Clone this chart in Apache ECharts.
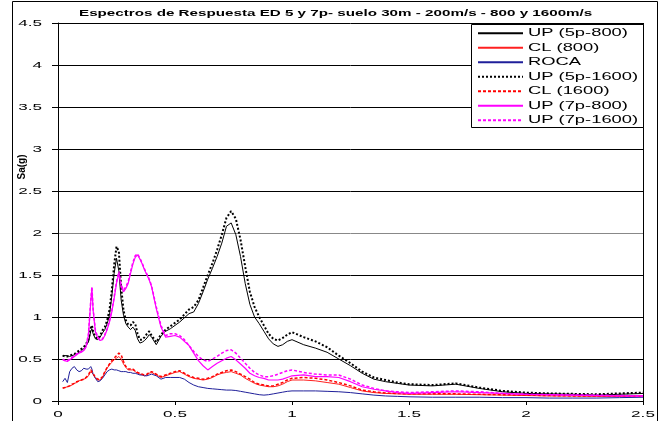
<!DOCTYPE html>
<html>
<head>
<meta charset="utf-8">
<script src="https://cdn.jsdelivr.net/npm/echarts@6/dist/echarts.min.js"></script>
<style>
html,body{margin:0;padding:0;background:#fff;}
#chart{width:662px;height:421px;}
</style>
</head>
<body>
<div id="chart"></div>
<script>
// Data
const periods = [
  0.02,0.03,0.04,0.05,0.06,0.07,0.08,0.09,0.10,0.11,
  0.12,0.13,0.14,0.145,0.15,0.16,0.17,0.18,0.19,0.20,
  0.21,0.22,0.23,0.24,0.25,0.26,0.27,0.28,0.29,0.30,
  0.31,0.32,0.33,0.34,0.35,0.36,0.37,0.38,0.39,0.40,
  0.42,0.44,0.46,0.48,0.50,0.52,0.54,0.56,0.58,0.60,
  0.62,0.64,0.66,0.68,0.70,0.72,0.74,0.76,0.78,0.80,
  0.82,0.84,0.86,0.88,0.90,0.92,0.94,0.96,0.98,1.00,
  1.05,1.10,1.15,1.20,1.25,1.30,1.35,1.40,1.45,1.50,
  1.6,1.7,1.8,1.9,2.0,2.1,2.2,2.3,2.4,2.5
];
const up5p800 = [
  0.54,0.54,0.54,0.53,0.54,0.55,0.56,0.58,0.60,0.62,
  0.66,0.70,0.83,0.86,0.80,0.74,0.73,0.76,0.81,0.85,
  0.92,1.02,1.25,1.52,1.70,1.55,1.20,1.02,0.92,0.88,
  0.85,0.88,0.84,0.74,0.69,0.70,0.72,0.75,0.79,0.76,
  0.67,0.77,0.83,0.86,0.90,0.94,0.99,1.04,1.06,1.16,
  1.30,1.45,1.58,1.72,1.88,2.08,2.12,1.98,1.72,1.40,
  1.15,1.00,0.92,0.83,0.74,0.68,0.65,0.67,0.71,0.73,
  0.67,0.63,0.58,0.50,0.42,0.33,0.26,0.23,0.21,0.19,
  0.18,0.20,0.15,0.11,0.09,0.085,0.08,0.07,0.08,0.09
];
const cl800 = [
  0.16,0.16,0.17,0.18,0.19,0.21,0.22,0.24,0.25,0.26,
  0.27,0.30,0.35,0.36,0.32,0.27,0.25,0.25,0.28,0.34,
  0.39,0.43,0.46,0.49,0.51,0.53,0.50,0.44,0.40,0.37,
  0.37,0.37,0.35,0.33,0.32,0.31,0.30,0.31,0.33,0.34,
  0.31,0.28,0.30,0.32,0.34,0.35,0.32,0.29,0.27,0.26,
  0.25,0.26,0.28,0.31,0.33,0.34,0.35,0.33,0.31,0.27,
  0.24,0.21,0.19,0.18,0.17,0.17,0.18,0.20,0.23,0.25,
  0.25,0.24,0.22,0.20,0.16,0.12,0.10,0.09,0.085,0.08,
  0.08,0.08,0.075,0.07,0.065,0.06,0.06,0.055,0.055,0.06
];
const roca = [
  0.23,0.27,0.22,0.35,0.39,0.41,0.37,0.35,0.36,0.39,
  0.38,0.38,0.41,0.38,0.32,0.27,0.23,0.24,0.27,0.31,
  0.35,0.37,0.38,0.37,0.37,0.36,0.35,0.35,0.35,0.34,
  0.34,0.33,0.33,0.32,0.31,0.31,0.30,0.30,0.31,0.32,
  0.30,0.26,0.28,0.28,0.28,0.28,0.26,0.22,0.19,0.17,
  0.16,0.15,0.145,0.14,0.135,0.13,0.13,0.125,0.115,0.105,
  0.095,0.085,0.075,0.07,0.075,0.085,0.095,0.105,0.115,0.12,
  0.12,0.12,0.115,0.11,0.10,0.085,0.07,0.06,0.055,0.05,
  0.045,0.045,0.045,0.04,0.04,0.035,0.035,0.035,0.04,0.045
];
const up5p1600 = [
  0.54,0.53,0.53,0.54,0.55,0.56,0.58,0.60,0.62,0.64,
  0.68,0.73,0.87,0.90,0.83,0.76,0.74,0.78,0.84,0.88,
  0.96,1.08,1.32,1.62,1.84,1.78,1.35,1.08,0.96,0.91,
  0.90,0.94,0.92,0.80,0.73,0.73,0.76,0.80,0.83,0.78,
  0.70,0.79,0.85,0.89,0.93,0.97,1.03,1.09,1.12,1.20,
  1.35,1.50,1.64,1.80,1.98,2.18,2.26,2.17,1.92,1.60,
  1.30,1.12,1.00,0.90,0.80,0.74,0.72,0.75,0.79,0.82,
  0.76,0.71,0.64,0.54,0.45,0.35,0.28,0.25,0.22,0.20,
  0.19,0.21,0.16,0.12,0.10,0.09,0.085,0.08,0.09,0.10
];
const cl1600 = [
  0.15,0.16,0.17,0.18,0.20,0.21,0.23,0.24,0.25,0.26,
  0.28,0.31,0.37,0.38,0.33,0.28,0.26,0.26,0.29,0.35,
  0.40,0.44,0.48,0.51,0.54,0.57,0.55,0.47,0.41,0.38,
  0.38,0.38,0.36,0.34,0.33,0.32,0.31,0.32,0.34,0.35,
  0.32,0.29,0.31,0.33,0.35,0.36,0.33,0.30,0.28,0.27,
  0.26,0.27,0.29,0.32,0.34,0.36,0.37,0.35,0.32,0.29,
  0.26,0.22,0.20,0.19,0.18,0.18,0.20,0.22,0.25,0.27,
  0.28,0.27,0.25,0.22,0.18,0.13,0.11,0.095,0.09,0.085,
  0.085,0.085,0.08,0.075,0.07,0.065,0.06,0.06,0.06,0.06
];
const up7p800 = [
  0.49,0.48,0.47,0.49,0.51,0.53,0.55,0.57,0.58,0.60,
  0.64,0.78,1.18,1.35,1.08,0.82,0.75,0.72,0.73,0.78,
  0.85,0.94,1.06,1.22,1.40,1.52,1.36,1.30,1.34,1.40,
  1.52,1.63,1.71,1.74,1.69,1.63,1.56,1.50,1.44,1.36,
  1.10,0.88,0.76,0.77,0.78,0.76,0.71,0.66,0.57,0.48,
  0.42,0.37,0.41,0.45,0.48,0.51,0.53,0.49,0.44,0.39,
  0.33,0.30,0.28,0.27,0.25,0.25,0.25,0.26,0.28,0.30,
  0.31,0.29,0.29,0.28,0.23,0.17,0.14,0.12,0.10,0.09,
  0.10,0.11,0.10,0.09,0.08,0.075,0.07,0.065,0.06,0.06
];
const up7p1600 = [
  0.50,0.48,0.48,0.50,0.52,0.54,0.56,0.58,0.59,0.61,
  0.65,0.80,1.20,1.36,1.10,0.84,0.76,0.73,0.74,0.79,
  0.86,0.96,1.08,1.24,1.42,1.54,1.38,1.32,1.36,1.42,
  1.54,1.65,1.73,1.75,1.70,1.64,1.57,1.51,1.45,1.37,
  1.12,0.90,0.78,0.80,0.80,0.78,0.73,0.66,0.59,0.53,
  0.49,0.47,0.50,0.53,0.57,0.60,0.61,0.57,0.51,0.45,
  0.39,0.34,0.31,0.29,0.29,0.30,0.32,0.34,0.36,0.37,
  0.34,0.32,0.31,0.31,0.26,0.19,0.15,0.12,0.11,0.10,
  0.11,0.12,0.11,0.09,0.08,0.075,0.07,0.07,0.065,0.06
];
const seriesNames = ['UP (5p-800)','CL (800)','ROCA','UP (5p-1600)','CL (1600)','UP (7p-800)','UP (7p-1600)'];
const seriesValues = [up5p800, cl800, roca, up5p1600, cl1600, up7p800, up7p1600];
const titleText = 'Espectros de Respuesta ED 5 y 7p- suelo 30m - 200m/s - 800 y 1600m/s';
const xName = 'T (s)';
const yName = 'Sa(g)';

// The reference (an Excel export) shows horizontal text stretched sideways;
// reproduce that by widening horizontal text about its anchor point.
(function(){
  const P = CanvasRenderingContext2D.prototype;
  const orig = P.fillText;
  const SX = 1.8;
  P.fillText = function(t, x, y, w){
    const m = this.getTransform();
    if (Math.abs(m.b) > 1e-6 || Math.abs(m.c) > 1e-6) {
      return w === undefined ? orig.call(this, t, x, y) : orig.call(this, t, x, y, w);
    }
    const px = m.a * x + m.c * y + m.e;
    this.save();
    this.setTransform(SX * m.a, m.b, SX * m.c, m.d, SX * m.e + (1 - SX) * px, m.f);
    if (w === undefined) orig.call(this, t, x, y); else orig.call(this, t, x, y, w);
    this.restore();
  };
})();

const FONT = 'Liberation Sans';
const styles = [
  {color:'#000000', width:1, type:'solid'},
  {color:'#ff2020', width:1, type:'solid'},
  {color:'#1f1f9a', width:1, type:'solid'},
  {color:'#000000', width:2, type:[2,2]},
  {color:'#ff0000', width:1.5, type:[3,2]},
  {color:'#ff00ff', width:1.2, type:'solid'},
  {color:'#ff00ff', width:1.5, type:[3,2]}
];

const chart = echarts.init(document.getElementById('chart'), null, {renderer:'canvas'});
chart.setOption({
  animation: false,
  backgroundColor: '#ffffff',
  title: {
    text: titleText, left: 79, top: 10, padding: 0,
    textStyle: {fontFamily: FONT, fontSize: 8.45, fontWeight: 'bold', color: '#000'}
  },
  grid: {left: 58, right: 19, top: 23, bottom: 20, containLabel: false, outerBoundsMode: 'none'},
  legend: {
    orient: 'vertical', left: 477, top: 27.3, padding: 0,
    itemWidth: 45, itemHeight: 12, itemGap: 2.5,
    itemStyle: {opacity: 0, borderWidth: 0},
    textStyle: {fontFamily: FONT, fontSize: 10.2, color: '#000', lineHeight: 12},
    data: seriesNames
  },
  xAxis: {
    type: 'value', min: 0, max: 2.5, interval: 0.5,
    name: xName, nameLocation: 'middle', nameGap: 8,
    nameTextStyle: {fontFamily: FONT, fontSize: 8.4, fontWeight: 'bold', color: '#000', padding: [0, 23, 0, 0]},
    axisLine: {show: true, lineStyle: {color: '#000', width: 1}},
    axisTick: {show: true, length: 4, lineStyle: {color: '#000'}},
    axisLabel: {fontFamily: FONT, fontSize: 9.5, color: '#000', margin: 8},
    splitLine: {show: false}
  },
  yAxis: {
    type: 'value', min: 0, max: 4.5, interval: 0.5,
    axisLine: {show: true, lineStyle: {color: '#000', width: 1}},
    axisTick: {show: true, length: 6, lineStyle: {color: '#000'}},
    axisLabel: {fontFamily: FONT, fontSize: 9.5, color: '#000', margin: 16},
    splitLine: {show: true, lineStyle: {color: ['#000','#000','#000','#000','#888','#000','#000','#000','#000','#000'], width: 1}}
  },
  graphic: [
    {type: 'rect', silent: true, z: 0, shape: {x: 12.5, y: 1.5, width: 645, height: 440}, style: {fill: null, stroke: '#000', lineWidth: 1}},
    {type: 'line', silent: true, z: 3, shape: {x1: 643.5, y1: 23, x2: 643.5, y2: 401}, style: {stroke: '#000', lineWidth: 1}},
    {type: 'rect', silent: true, z: 3, shape: {x: 471.5, y: 24.5, width: 172, height: 103}, style: {fill: '#fff', stroke: '#000', lineWidth: 1}},
    {type: 'text', silent: true, z: 3, x: 22.5, y: 167, rotation: Math.PI / 2,
     style: {text: yName, fontFamily: FONT, fontSize: 10, fontWeight: 'bold', fill: '#000',
             align: 'center', verticalAlign: 'middle', textAlign: 'center', textVerticalAlign: 'middle'}}
  ],
  series: seriesNames.map((name, i) => ({
    name: name, type: 'line', symbol: 'none', showSymbol: false, smooth: false,
    z: 2 + i * 0.01,
    lineStyle: {color: styles[i].color, width: styles[i].width, type: styles[i].type},
    itemStyle: {color: styles[i].color},
    data: periods.map((t, k) => [t, seriesValues[i][k]])
  }))
});
</script>
</body>
</html>
